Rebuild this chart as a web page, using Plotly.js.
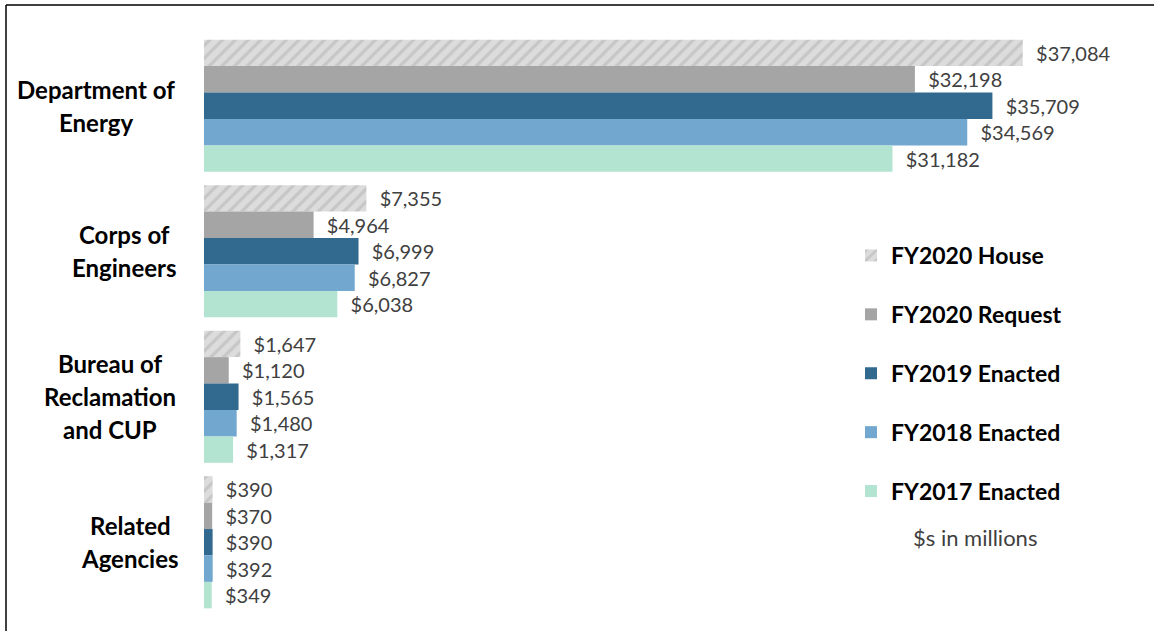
<!DOCTYPE html>
<html>
<head>
<meta charset="utf-8">
<script src="https://cdn.plot.ly/plotly-3.0.1.min.js"></script>
<style>
html,body{margin:0;padding:0;background:#fff;}
#chart{width:1154px;height:631px;}
</style>
</head>
<body>
<div id="chart"></div>
<script>
// ---- Data ----
const categories = ['Department of Energy', 'Corps of Engineers', 'Bureau of Reclamation and CUP', 'Related Agencies'];
const categoryLines = [['Department of', 'Energy'], ['Corps of', 'Engineers'], ['Bureau of', 'Reclamation', 'and CUP'], ['Related', 'Agencies']];
const seriesNames = ['FY2020 House', 'FY2020 Request', 'FY2019 Enacted', 'FY2018 Enacted', 'FY2017 Enacted'];
const fy2020House = [37084, 7355, 1647, 390];
const fy2020Request = [32198, 4964, 1120, 370];
const fy2019Enacted = [35709, 6999, 1565, 390];
const fy2018Enacted = [34569, 6827, 1480, 392];
const fy2017Enacted = [31182, 6038, 1317, 349];
const unitNote = '$s in millions';

// ---- Styles ----
const seriesValues = [fy2020House, fy2020Request, fy2019Enacted, fy2018Enacted, fy2017Enacted];
const colors = ['#dadada', '#a5a5a5', '#31698f', '#72a7cf', '#b3e3d1'];
const FONT = 'Lato, "Open Sans", sans-serif';
const W = 1154, H = 631;
const M = {l: 204, r: 24, t: 33, b: 16};
const pw = W - M.l - M.r, ph = H - M.t - M.b;
const px2x = p => (p - M.l) / pw;
const py2y = p => (H - M.b - p) / ph;

const traces = seriesNames.map((name, i) => {
  const marker = {color: colors[i], line: {width: 0}};
  if (i === 0) {
    marker.pattern = {shape: '/', bgcolor: '#dcdcdc', fgcolor: '#c6c6c6', size: 9, solidity: 0.35, fillmode: 'replace'};
  }
  return {
    type: 'bar',
    orientation: 'h',
    name: name,
    legendgroup: 'g' + i,
    y: categories,
    x: seriesValues[i],
    marker: marker,
    text: seriesValues[i].map(v => '\u00a0\u00a0$' + v.toLocaleString('en-US')),
    textposition: 'outside',
    textfont: {family: FONT, size: 20, color: '#404040'},
    constraintext: 'none',
    cliponaxis: false,
    hoverinfo: 'skip'
  };
});

const annotations = [];
const blockCenters = [96, 124, 110, 130];
categoryLines.forEach((lines, ci) => {
  const n = lines.length;
  const spacing = 33;
  lines.forEach((ln, li) => {
    annotations.push({
      xref: 'paper', yref: 'y', x: 0, y: categories[ci],
      xanchor: 'center', yanchor: 'middle',
      xshift: blockCenters[ci] - M.l,
      text: '<b>' + ln + '</b>', showarrow: false,
      font: {family: FONT, size: 24, color: '#000'},
      yshift: -((li - (n - 1) / 2) * spacing)
    });
  });
});

annotations.push({
  xref: 'paper', yref: 'paper', x: px2x(975), y: py2y(537),
  xanchor: 'center', yanchor: 'middle', showarrow: false,
  text: unitNote, font: {family: FONT, size: 22, color: '#404040'}
});

const layout = {
  width: W, height: H,
  margin: M,
  paper_bgcolor: '#fff', plot_bgcolor: '#fff',
  barmode: 'group', bargap: 0.092, bargroupgap: 0,
  xaxis: {range: [0, 41940], visible: false, fixedrange: true},
  yaxis: {autorange: 'reversed', showticklabels: false, showgrid: false, zeroline: false, showline: false, ticks: '', fixedrange: true},
  showlegend: true,
  legend: {
    x: px2x(851), y: py2y(234), xanchor: 'left', yanchor: 'top',
    traceorder: 'grouped', tracegroupgap: 26,
    font: {family: FONT, size: 23, color: '#000', weight: 'bold'},
    bgcolor: 'rgba(0,0,0,0)'
  },
  annotations: annotations,
  shapes: [
    {type: 'line', xref: 'paper', yref: 'paper', x0: px2x(6), x1: px2x(1154), y0: py2y(5), y1: py2y(5), line: {color: '#000', width: 1.5}},
    {type: 'line', xref: 'paper', yref: 'paper', x0: px2x(6), x1: px2x(6), y0: py2y(5), y1: py2y(631), line: {color: '#000', width: 1.5}}
  ]
};

Plotly.newPlot('chart', traces, layout, {displayModeBar: false, staticPlot: true});
</script>
</body>
</html>
